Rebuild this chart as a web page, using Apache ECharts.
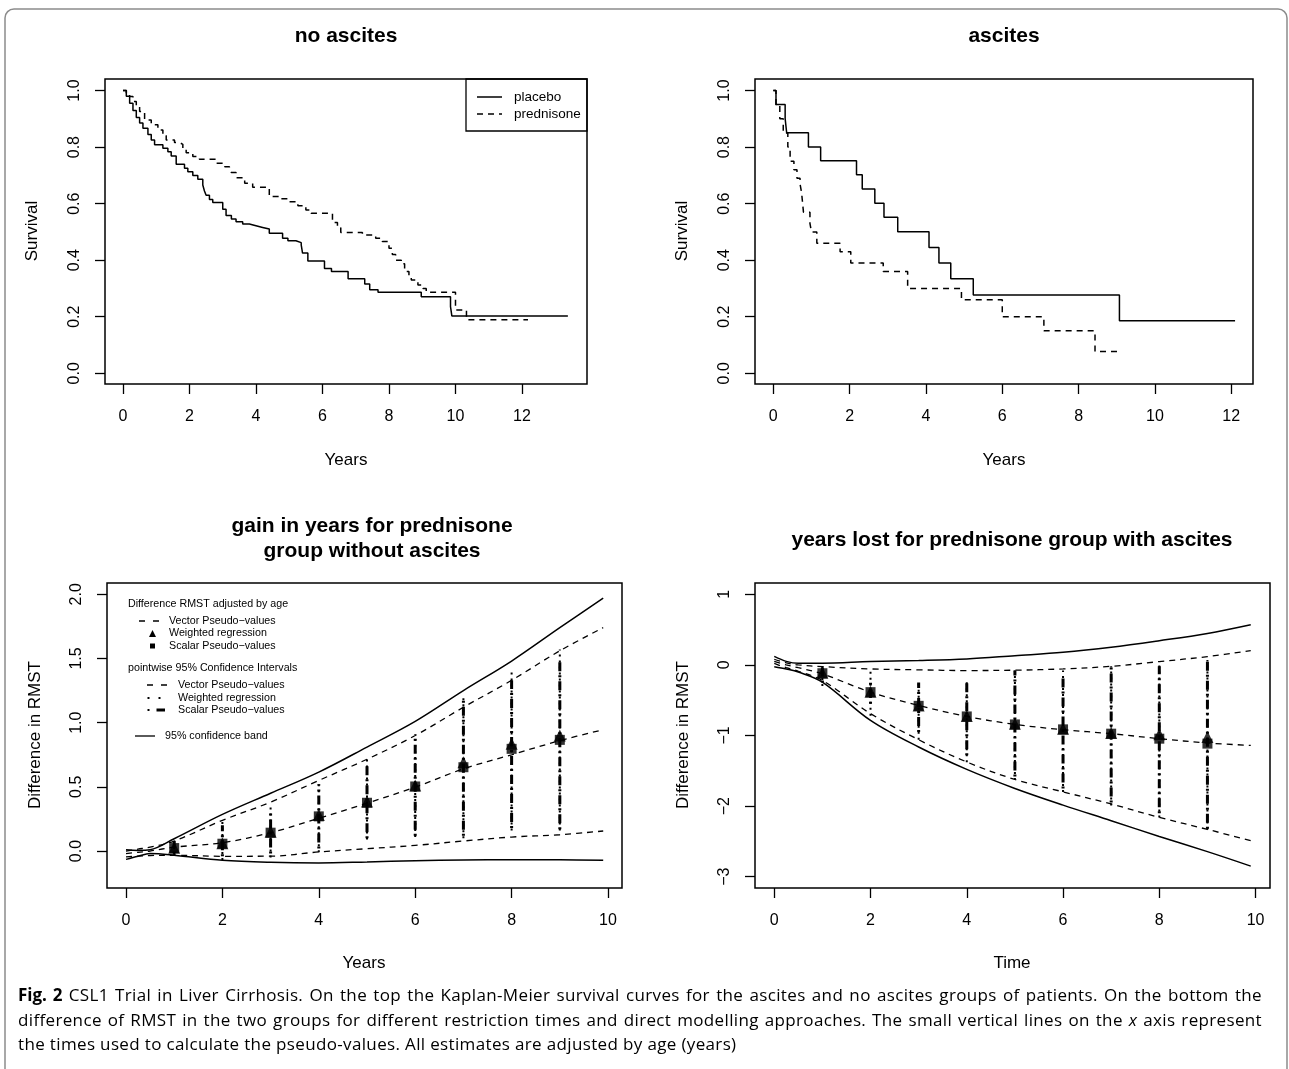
<!DOCTYPE html>
<html>
<head>
<meta charset="utf-8">
<script src="https://cdn.jsdelivr.net/npm/echarts@6/dist/echarts.min.js"></script>
<style>
html, body { margin: 0; padding: 0; background: #fff; }
#wrap { position: relative; width: 1289px; height: 1069px; overflow: hidden; }
#chart { width: 1289px; height: 1069px; }
#caption {
    position: absolute; left: 18px; top: 983px; width: 1244px;
    font-family: 'Open Sans', sans-serif; font-size: 17px; line-height: 24.5px;
    letter-spacing: 0.35px; color: #000; white-space: nowrap;
}
#caption .j { text-align: justify; text-align-last: justify; }
#caption b { font-weight: bold; letter-spacing: 0; }
</style>
</head>
<body>
<div id="wrap">
<div id="chart"></div>
<div id="caption">
<div class="j"><b>Fig. 2</b> CSL1 Trial in Liver Cirrhosis. On the top the Kaplan-Meier survival curves for the ascites and no ascites groups of patients. On the bottom the</div>
<div class="j">difference of RMST in the two groups for different restriction times and direct modelling approaches. The small vertical lines on the <i>x</i> axis represent</div>
<div>the times used to calculate the pseudo-values. All estimates are adjusted by age (years)</div>
</div>
</div>
<script>
// Kaplan-Meier, no ascites (time of step, survival after step)
var naPlaceboT = [0, 0.1, 0.2, 0.3, 0.4, 0.5, 0.6, 0.75, 0.85, 0.95, 1.2, 1.35, 1.45, 1.6, 1.85, 1.95, 2.1, 2.25, 2.4, 2.45, 2.5, 2.6, 2.7, 3.0, 3.1, 3.26, 3.4, 3.6, 3.8, 4.0, 4.2, 4.4, 4.8, 4.96, 5.2, 5.36, 5.4, 5.56, 6.06, 6.27, 6.77, 7.27, 7.42, 7.67, 8.97, 9.85, 9.89, 13.38];
var naPlaceboS = [1.0, 0.98, 0.955, 0.93, 0.905, 0.885, 0.867, 0.845, 0.825, 0.808, 0.796, 0.784, 0.769, 0.739, 0.725, 0.713, 0.70, 0.686, 0.666, 0.645, 0.63, 0.615, 0.604, 0.58, 0.558, 0.546, 0.536, 0.528, 0.522, 0.516, 0.51, 0.495, 0.478, 0.469, 0.462, 0.454, 0.425, 0.397, 0.371, 0.36, 0.334, 0.316, 0.295, 0.287, 0.271, 0.236, 0.203, 0.203];
var naPredT = [0, 0.1, 0.2, 0.3, 0.4, 0.5, 0.65, 0.85, 1.05, 1.2, 1.3, 1.55, 1.7, 1.8, 1.9, 2.1, 2.3, 2.8, 3.06, 3.2, 3.26, 3.4, 3.66, 3.9, 4.4, 4.76, 5.0, 5.26, 5.5, 5.66, 6.3, 6.45, 6.55, 7.2, 7.6, 7.8, 8.0, 8.1, 8.2, 8.37, 8.47, 8.6, 8.67, 8.87, 9.02, 9.12, 10.0, 10.33, 12.18];
var naPredS = [1.0, 0.99, 0.979, 0.961, 0.945, 0.926, 0.896, 0.879, 0.861, 0.84, 0.825, 0.816, 0.81, 0.795, 0.78, 0.767, 0.757, 0.743, 0.731, 0.72, 0.71, 0.692, 0.672, 0.658, 0.625, 0.617, 0.607, 0.593, 0.578, 0.566, 0.533, 0.515, 0.498, 0.489, 0.478, 0.466, 0.442, 0.42, 0.40, 0.387, 0.36, 0.345, 0.33, 0.312, 0.30, 0.287, 0.224, 0.189, 0.189];

// Kaplan-Meier, ascites
var asPlaceboT = [0, 0.07, 0.31, 0.35, 0.92, 1.24, 2.18, 2.33, 2.66, 2.9, 3.26, 4.08, 4.34, 4.65, 5.24, 9.07, 12.1];
var asPlaceboS = [1.0, 0.951, 0.901, 0.851, 0.80, 0.752, 0.702, 0.652, 0.601, 0.552, 0.501, 0.445, 0.39, 0.334, 0.277, 0.186, 0.186];
var asPredT = [0, 0.07, 0.17, 0.26, 0.38, 0.44, 0.54, 0.62, 0.70, 0.74, 0.79, 0.96, 1.0, 1.14, 1.75, 2.03, 2.88, 3.52, 4.93, 6.0, 7.09, 8.43, 9.1];
var asPredS = [1.0, 0.95, 0.90, 0.85, 0.80, 0.75, 0.72, 0.69, 0.67, 0.64, 0.57, 0.53, 0.50, 0.46, 0.43, 0.39, 0.36, 0.30, 0.26, 0.20, 0.15, 0.077, 0.077];

// RMST difference curves
var rmstT = [0, 0.25, 0.5, 1, 2, 3, 4, 5, 6, 7, 8, 9, 9.9];
var blBandHi = [0.01, 0.005, 0.01, 0.096, 0.285, 0.45, 0.615, 0.81, 1.01, 1.25, 1.48, 1.74, 1.97];
var blBandLo = [-0.065, -0.04, -0.02, -0.033, -0.072, -0.088, -0.093, -0.085, -0.075, -0.07, -0.067, -0.068, -0.072];
var blVecHi = [0.0, 0.015, 0.03, 0.078, 0.239, 0.381, 0.55, 0.715, 0.9, 1.12, 1.33, 1.56, 1.74];
var blVecEst = [-0.02, -0.01, 0.0, 0.03, 0.065, 0.143, 0.255, 0.373, 0.498, 0.64, 0.75, 0.86, 0.945];
var blVecLo = [-0.045, -0.04, -0.035, -0.033, -0.041, -0.04, -0.007, 0.018, 0.044, 0.078, 0.109, 0.127, 0.156];

var brBandHi = [0.12, 0.05, 0.023, 0.023, 0.047, 0.062, 0.085, 0.131, 0.178, 0.25, 0.343, 0.446, 0.569];
var brBandLo = [-0.025, -0.057, -0.1, -0.245, -0.786, -1.163, -1.48, -1.75, -1.986, -2.207, -2.43, -2.645, -2.85];
var brVecHi = [0.08, 0.03, 0.0, -0.024, -0.057, -0.07, -0.08, -0.075, -0.057, -0.02, 0.047, 0.117, 0.202];
var brVecEst = [0.05, 0.0, -0.04, -0.127, -0.386, -0.574, -0.73, -0.843, -0.918, -0.974, -1.045, -1.106, -1.14];
var brVecLo = [0.02, -0.04, -0.09, -0.22, -0.69, -1.06, -1.375, -1.623, -1.798, -1.97, -2.16, -2.33, -2.49];

// restriction times with point estimates and pointwise CIs
var ciT = [1, 2, 3, 4, 5, 6, 7, 8, 9];
var blScalar = [0.023, 0.057, 0.143, 0.27, 0.376, 0.503, 0.653, 0.796, 0.866];
var blWeighted = [0.025, 0.06, 0.15, 0.28, 0.385, 0.51, 0.692, 0.835, 0.90];
var blWrLo = [-0.03, -0.07, -0.05, -0.01, 0.09, 0.11, 0.10, 0.16, 0.16];
var blWrHi = [0.10, 0.24, 0.34, 0.55, 0.72, 0.91, 1.20, 1.41, 1.57];
var blSpLo = [-0.02, -0.04, -0.02, 0.02, 0.10, 0.12, 0.12, 0.18, 0.17];
var blSpHi = [0.08, 0.20, 0.32, 0.52, 0.68, 0.90, 1.18, 1.33, 1.48];

var brScalar = [-0.118, -0.386, -0.58, -0.73, -0.843, -0.913, -0.974, -1.045, -1.115];
var brWeighted = [-0.11, -0.38, -0.575, -0.725, -0.835, -0.905, -0.965, -0.984, -1.02];
var brWrLo = [-0.30, -0.72, -1.06, -1.38, -1.63, -1.80, -1.99, -2.16, -2.33];
var brWrHi = [0.01, -0.06, -0.21, -0.22, -0.08, -0.08, -0.02, 0.01, 0.07];
var brSpLo = [-0.25, -0.55, -0.95, -1.28, -1.58, -1.75, -1.95, -2.10, -2.32];
var brSpHi = [0.0, -0.20, -0.25, -0.26, -0.08, -0.14, -0.02, -0.02, 0.07];

var kmXTicks = [0, 2, 4, 6, 8, 10, 12];
var kmYTicks = [0, 0.2, 0.4, 0.6, 0.8, 1.0];
var rmstXTicks = [0, 2, 4, 6, 8, 10];
var blYTicks = [0, 0.5, 1.0, 1.5, 2.0];
var brYTicks = [-3, -2, -1, 0, 1];

var FONT = 'Liberation Sans';

function pairs(xs, ys) {
    return xs.map(function (x, i) { return [x, ys[i]]; });
}
function triples(xs, a, b) {
    return xs.map(function (x, i) { return [x, a[i], b[i]]; });
}

function xAx(g, min, max, ticks) {
    return {
        type: 'value', gridIndex: g, min: min, max: max,
        axisLine: { show: false, onZero: false }, splitLine: { show: false },
        axisTick: { show: true, inside: false, length: 10, customValues: ticks, lineStyle: { color: '#000', width: 1.3 } },
        axisLabel: { customValues: ticks, margin: 25, fontSize: 16, color: '#000', fontFamily: FONT }
    };
}
function yAx(g, min, max, ticks, fmt) {
    return {
        type: 'value', gridIndex: g, min: min, max: max,
        axisLine: { show: false, onZero: false }, splitLine: { show: false },
        axisTick: { show: true, inside: false, length: 10, customValues: ticks, lineStyle: { color: '#000', width: 1.3 } },
        axisLabel: { customValues: ticks, margin: 22, fontSize: 16, color: '#000', fontFamily: FONT, rotate: 90, formatter: fmt }
    };
}

function stepLine(g, xs, ys, dash) {
    return {
        type: 'line', xAxisIndex: g, yAxisIndex: g, step: 'end', symbol: 'none',
        data: pairs(xs, ys), lineStyle: { color: '#000', width: 1.5, type: dash || 'solid' }
    };
}
function curve(g, ys, dash) {
    return {
        type: 'line', xAxisIndex: g, yAxisIndex: g, smooth: 0.35, symbol: 'none',
        data: pairs(rmstT, ys), lineStyle: { color: '#000', width: dash ? 1.3 : 1.5, type: dash || 'solid' }
    };
}
function vSeg(g, lo, hi, dash, w) {
    return {
        type: 'custom', xAxisIndex: g, yAxisIndex: g,
        data: triples(ciT, lo, hi),
        renderItem: function (params, api) {
            var a = api.coord([api.value(0), api.value(1)]);
            var b = api.coord([api.value(0), api.value(2)]);
            return { type: 'line', shape: { x1: a[0], y1: a[1], x2: b[0], y2: b[1] },
                style: { stroke: '#000', lineWidth: w, lineDash: dash } };
        }
    };
}
function marks(g, ys, sym, size) {
    return {
        type: 'scatter', xAxisIndex: g, yAxisIndex: g, symbol: sym, symbolSize: size,
        data: pairs(ciT, ys), itemStyle: { color: '#000' }
    };
}

var fix1 = function (v) { return v.toFixed(1); };
var minus = function (v) { return String(v).replace('-', '\u2212'); };

function txt(x, y, s, size, opts) {
    opts = opts || {};
    return {
        type: 'text', x: x, y: y, rotation: opts.rot || 0, z: 10,
        style: {
            text: s, fontSize: size, fontFamily: FONT, fontWeight: opts.bold ? 'bold' : 'normal',
            fill: '#000', align: opts.align || 'center', verticalAlign: 'middle'
        }
    };
}
function seg(x1, y1, x2, y2, w, dash) {
    return { type: 'line', z: 10, shape: { x1: x1, y1: y1, x2: x2, y2: y2 },
        style: { stroke: '#000', lineWidth: w, lineDash: dash || null } };
}

var DASH = [6, 5];
var DOTTED = [2, 4];
var DOTDASH = [2, 4, 9, 4];

var graphics = [
    { type: 'rect', shape: { x: 5, y: 9, width: 1282, height: 1100, r: 9 }, style: { fill: 'none', stroke: '#8c8c8c', lineWidth: 1.5 } },
    txt(346, 36, 'no ascites', 21, { bold: true }),
    txt(1004, 36, 'ascites', 21, { bold: true }),
    txt(372, 526, 'gain in years for prednisone', 21, { bold: true }),
    txt(372, 551, 'group without ascites', 21, { bold: true }),
    txt(1012, 540, 'years lost for prednisone group with ascites', 21, { bold: true }),
    txt(346, 460, 'Years', 17),
    txt(1004, 460, 'Years', 17),
    txt(364, 963, 'Years', 17),
    txt(1012, 963, 'Time', 17),
    txt(32, 231, 'Survival', 17, { rot: Math.PI / 2 }),
    txt(682, 231, 'Survival', 17, { rot: Math.PI / 2 }),
    txt(35, 735, 'Difference in RMST', 17, { rot: Math.PI / 2 }),
    txt(683, 735, 'Difference in RMST', 17, { rot: Math.PI / 2 }),
    // legend, top left
    { type: 'rect', z: 10, shape: { x: 466, y: 79, width: 121, height: 52 }, style: { fill: 'none', stroke: '#000', lineWidth: 1.3 } },
    seg(477, 97, 502, 97, 1.5),
    seg(477, 114, 502, 114, 1.5, DASH),
    txt(514, 97, 'placebo', 13.5, { align: 'left' }),
    txt(514, 114, 'prednisone', 13.5, { align: 'left' }),
    // legend, bottom left
    txt(128, 604, 'Difference RMST adjusted by age', 10.7, { align: 'left' }),
    seg(139, 621, 161, 621, 1.3, [6, 8]),
    txt(169, 621, 'Vector Pseudo\u2212values', 10.7, { align: 'left' }),
    { type: 'polygon', z: 10, shape: { points: [[152.5, 630], [156, 637], [149, 637]] }, style: { fill: '#000' } },
    txt(169, 633.5, 'Weighted regression', 10.7, { align: 'left' }),
    { type: 'rect', z: 10, shape: { x: 150, y: 643.5, width: 5, height: 5 }, style: { fill: '#000' } },
    txt(169, 646, 'Scalar Pseudo\u2212values', 10.7, { align: 'left' }),
    txt(128, 668, 'pointwise 95% Confidence Intervals', 10.7, { align: 'left' }),
    seg(147, 685, 169, 685, 1.3, [6, 8]),
    txt(178, 685, 'Vector Pseudo\u2212values', 10.7, { align: 'left' }),
    seg(147.5, 698, 149.5, 698, 2),
    seg(158.5, 698, 160.5, 698, 2),
    txt(178, 698, 'Weighted regression', 10.7, { align: 'left' }),
    seg(147.5, 710, 149.5, 710, 2),
    seg(156.5, 710, 165, 710, 3),
    txt(178, 710, 'Scalar Pseudo\u2212values', 10.7, { align: 'left' }),
    seg(135, 736, 155, 736, 1.3),
    txt(165, 736, '95% confidence band', 10.7, { align: 'left' })
];

var chart = echarts.init(document.getElementById('chart'));
var gridStyle = { show: true, borderColor: '#000', borderWidth: 1.5, backgroundColor: 'transparent' };
chart.setOption({
    animation: false,
    backgroundColor: '#fff',
    grid: [
        Object.assign({ left: 105, top: 79, width: 482, height: 305 }, gridStyle),
        Object.assign({ left: 755, top: 79, width: 498, height: 305 }, gridStyle),
        Object.assign({ left: 107, top: 583, width: 515, height: 305 }, gridStyle),
        Object.assign({ left: 755, top: 583, width: 515, height: 305 }, gridStyle)
    ],
    xAxis: [
        xAx(0, -0.541, 13.955, kmXTicks),
        xAx(1, -0.48, 12.57, kmXTicks),
        xAx(2, -0.394, 10.29, rmstXTicks),
        xAx(3, -0.40, 10.30, rmstXTicks)
    ],
    yAxis: [
        yAx(0, -0.038, 1.041, kmYTicks, fix1),
        yAx(1, -0.038, 1.041, kmYTicks, fix1),
        yAx(2, -0.288, 2.088, blYTicks, fix1),
        yAx(3, -3.16, 1.16, brYTicks, minus)
    ],
    series: [
        stepLine(0, naPlaceboT, naPlaceboS),
        stepLine(0, naPredT, naPredS, DASH),
        stepLine(1, asPlaceboT, asPlaceboS),
        stepLine(1, asPredT, asPredS, DASH),

        curve(2, blBandHi), curve(2, blBandLo),
        curve(2, blVecHi, DASH), curve(2, blVecEst, DASH), curve(2, blVecLo, DASH),
        vSeg(2, blWrLo, blWrHi, DOTTED, 2),
        vSeg(2, blSpLo, blSpHi, DOTDASH, 3),
        marks(2, blWeighted, 'triangle', 12),
        marks(2, blScalar, 'rect', 10),

        curve(3, brBandHi), curve(3, brBandLo),
        curve(3, brVecHi, DASH), curve(3, brVecEst, DASH), curve(3, brVecLo, DASH),
        vSeg(3, brWrLo, brWrHi, DOTTED, 2),
        vSeg(3, brSpLo, brSpHi, DOTDASH, 3),
        marks(3, brWeighted, 'triangle', 12),
        marks(3, brScalar, 'rect', 10)
    ],
    graphic: graphics
});
</script>
</body>
</html>
